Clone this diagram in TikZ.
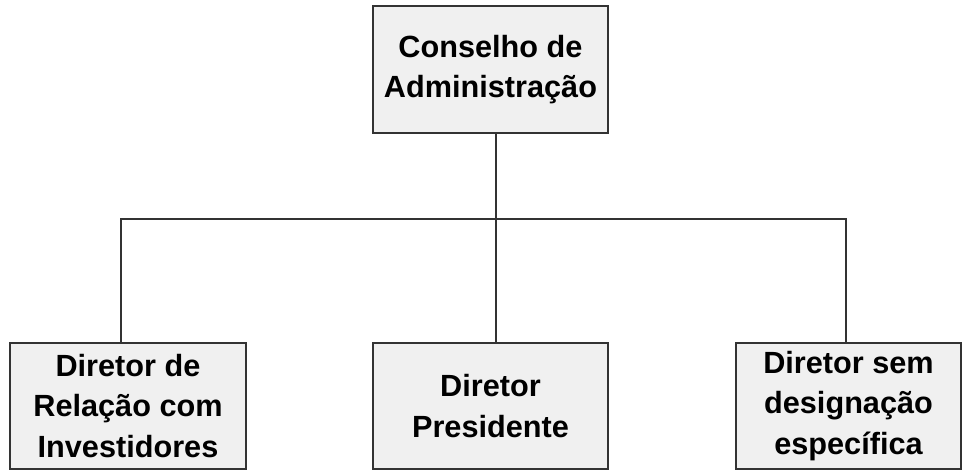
\documentclass[tikz,border=0pt]{standalone}
\usepackage{fontspec}
\setmainfont{Liberation Sans}
\begin{document}
\begin{tikzpicture}[x=0.75pt, y=-0.75pt]
  \tikzstyle{box}=[rectangle, draw=black!80, line width=1.5pt, fill=black!6, minimum width=176.25pt, minimum height=94.5pt, inner sep=0pt, align=center, font=\fontsize{23}{30.5}\selectfont\bfseries]
  \tikzstyle{link}=[draw=black!80, line width=1.3pt]
  \useasboundingbox (0,0) rectangle (962,470);

  \node[box, minimum height=95.25pt] (conselho) at (490.5, 69.5) {Conselho de\\Administração};

  \node[box, minimum width=177pt] (relacao)    at (128,   406) {Diretor de\\Relação com\\Investidores};
  \node[box]                      (presidente) at (490.5, 406) {Diretor\\Presidente};
  \node[box, minimum width=168.75pt] (semdesig) at (848.5, 406) {Diretor sem\\designação\\específica};

  \coordinate (meio)     at (496, 219);
  \coordinate (esquerda) at (121, 219);
  \coordinate (direita)  at (846, 219);

  \draw[link] (conselho.south -| meio) -- (presidente.north -| meio);
  \draw[link] (relacao.north -| esquerda) -- (esquerda) -- (direita) -- (semdesig.north -| direita);
\end{tikzpicture}
\end{document}
